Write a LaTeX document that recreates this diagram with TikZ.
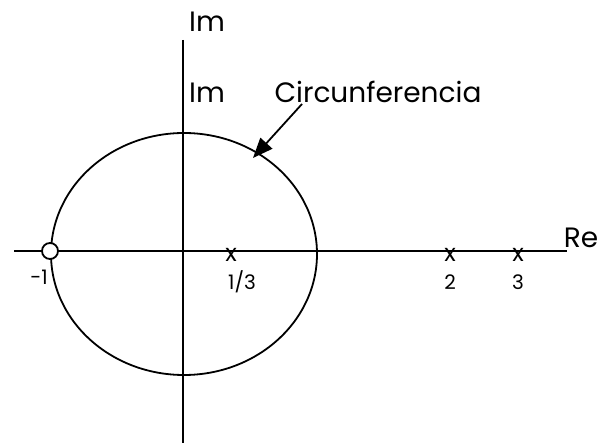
\documentclass[tikz,border=0pt]{standalone}
\usepackage{fontspec}
\setmainfont{Poppins}
\usetikzlibrary{arrows.meta}
\begin{document}
\begin{tikzpicture}[x=1pt,y=-1pt,
  line/.style={draw=black,line width=1.8pt},
  big/.style={font=\fontsize{28}{30}\selectfont,inner sep=0pt},
  small/.style={font=\fontsize{20}{22}\selectfont,inner sep=0pt},
  mark x/.style={font=\fontsize{24}{26}\selectfont,inner sep=0pt}]
\useasboundingbox (0,0) rectangle (598,443);
\coordinate (vt) at (183,40);
\coordinate (vb) at (183,443);
\coordinate (hl) at (14,251);
\coordinate (hr) at (567,251);
\draw[line] (vt) -- (vb);
\draw[line] (hl) -- (hr);
\draw[line] (184,254) ellipse [x radius=133, y radius=121];
\node[draw=black,line width=1.8pt,fill=white,circle,minimum size=16pt,inner sep=0pt] (m1) at (50,251) {};
\node[small] (lm1) at (39,277) {-1};
\node[mark x] (x13) at (231,255) {x};
\node[small] (l13) at (242,282) {1/3};
\node[mark x] (x2) at (450,255) {x};
\node[small] (l2) at (450,282) {2};
\node[mark x] (x3) at (518,255) {x};
\node[small] (l3) at (518,282) {3};
\node[big] (re) at (581,238) {Re};
\node[big] (im1) at (207,22) {Im};
\node[big] (im2) at (207,93) {Im};
\node[big] (circ) at (378,92) {Circunferencia};
\coordinate (tip) at (253,158);
\draw[line,-{Triangle[length=20pt,width=16pt]}] (302,104) -- (tip);
\end{tikzpicture}
\end{document}
